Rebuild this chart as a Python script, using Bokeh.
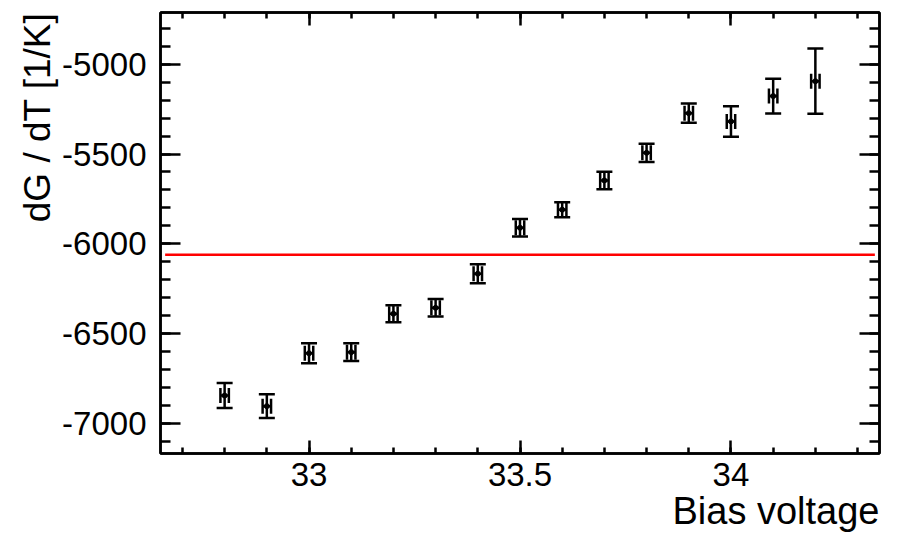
from bokeh.plotting import figure
from bokeh.models import (ColumnDataSource, Whisker, TeeHead, LinearAxis, SingleIntervalTicker,
                          Range1d, Title, CustomJSTickFormatter)
from bokeh.embed import file_html
from bokeh.resources import INLINE

# ---- data ----
bias = [32.8, 32.9, 33.0, 33.1, 33.2, 33.3, 33.4, 33.5, 33.6, 33.7, 33.8, 33.9, 34.0, 34.1, 34.2]
dgdt = [-6846, -6905, -6610, -6604, -6390, -6357, -6167, -5911, -5810, -5647, -5493, -5272, -5318, -5177, -5094]
dgdt_err = [70, 66, 56, 50, 47, 49, 53, 49, 42, 49, 51, 54, 85, 97, 182]
bias_err = [0.01] * len(bias)
fit_const = -6061
fit_x = [32.659, 34.341]

x_ticks_interval = 0.5
y_ticks_interval = 500

X0, X1 = 32.648, 34.352
Y0, Y1 = -7169, -4711

FONT = "Liberation Sans"

src = ColumnDataSource(dict(
    x=bias, y=dgdt,
    yl=[v - e for v, e in zip(dgdt, dgdt_err)],
    yu=[v + e for v, e in zip(dgdt, dgdt_err)],
    xl=[v - e for v, e in zip(bias, bias_err)],
    xu=[v + e for v, e in zip(bias, bias_err)],
))

FW, FH = 719, 441
p = figure(output_backend="svg", toolbar_location=None,
           frame_width=FW, frame_height=FH,
           x_range=Range1d(X0, X1), y_range=Range1d(Y0, Y1),
           x_axis_location=None, y_axis_location=None,
           min_border_left=160, min_border_right=20, min_border_top=12, min_border_bottom=85)
p.background_fill_color = "white"
p.border_fill_color = "white"
p.outline_line_color = "black"
p.outline_line_width = 2.5
p.xgrid.visible = False
p.ygrid.visible = False


def style_axis(ax, major_in, minor_in, labels=True, standoff=12):
    ax.axis_line_color = "black"
    ax.axis_line_width = 2.5
    ax.major_tick_line_width = 2.5
    ax.minor_tick_line_width = 2.5
    ax.major_tick_in = major_in
    ax.major_tick_out = 0
    ax.minor_tick_in = minor_in
    ax.minor_tick_out = 0
    if labels:
        ax.major_label_text_font = FONT
        ax.major_label_text_font_size = "33px"
        ax.major_label_text_color = "black"
        ax.major_label_standoff = standoff
    else:
        ax.major_label_text_font_size = "0px"
        ax.major_label_text_color = None
        ax.major_label_standoff = 0


xt = SingleIntervalTicker(interval=x_ticks_interval, num_minor_ticks=5)
yt = SingleIntervalTicker(interval=y_ticks_interval, num_minor_ticks=5)
xfmt = CustomJSTickFormatter(code="return String(Math.round(tick*10)/10);")
yfmt = CustomJSTickFormatter(code="return String(Math.round(tick));")

bx = LinearAxis(ticker=xt, formatter=xfmt)
style_axis(bx, 13, 6, standoff=9)
p.add_layout(bx, "below")
tx = LinearAxis(ticker=xt, formatter=xfmt)
style_axis(tx, 13, 6, labels=False)
p.add_layout(tx, "above")
ly = LinearAxis(ticker=yt, formatter=yfmt)
style_axis(ly, 20, 10, standoff=14)
p.add_layout(ly, "left")
ry = LinearAxis(ticker=yt, formatter=yfmt)
style_axis(ry, 20, 10, labels=False)
p.add_layout(ry, "right")

# fit line
p.line(fit_x, [fit_const, fit_const], line_color="#ff0000", line_width=2.5)

# y error bars
p.add_layout(Whisker(source=src, base="x", lower="yl", upper="yu", dimension="height",
                     line_color="black", line_width=2.5,
                     lower_head=TeeHead(size=16, line_width=2.5, line_color="black"),
                     upper_head=TeeHead(size=16, line_width=2.5, line_color="black")))
# x error bars
p.add_layout(Whisker(source=src, base="y", lower="xl", upper="xu", dimension="width",
                     line_color="black", line_width=2.5,
                     lower_head=TeeHead(size=15, line_width=2.5, line_color="black"),
                     upper_head=TeeHead(size=15, line_width=2.5, line_color="black")))
p.scatter("x", "y", source=src, size=5, color="black")

# axis titles
p.add_layout(Title(text="Bias voltage", align="right", text_font=FONT, text_font_size="38px",
                   text_font_style="normal", text_color="black", standoff=-2), "below")
p.add_layout(Title(text="dG / dT [1/K]", align="right", text_font=FONT, text_font_size="37px",
                   text_font_style="normal", text_color="black", standoff=3), "left")

open("out.html", "w").write(file_html(p, INLINE))
